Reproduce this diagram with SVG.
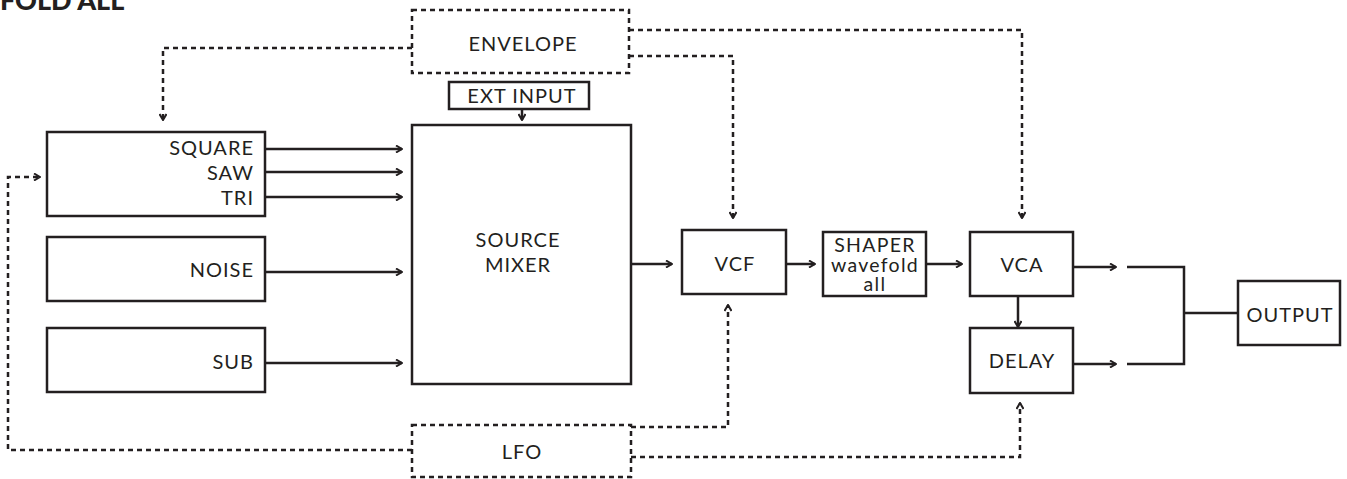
<svg xmlns="http://www.w3.org/2000/svg" width="1347" height="479" viewBox="0 0 1347 479">
<style>
.box{fill:#fff;stroke:#231f20;stroke-width:2.5}
.dbox{fill:none;stroke:#231f20;stroke-width:2.5;stroke-dasharray:5 4}
.t{font-family:Lato,"Noto Sans",sans-serif;font-size:20px;letter-spacing:1px;fill:#231f20}
.s{font-size:19.5px;letter-spacing:1.3px}
.c{text-anchor:middle}
.r{text-anchor:end}
.ln{fill:none;stroke:#231f20;stroke-width:2.5}
.dl{fill:none;stroke:#231f20;stroke-width:2.5;stroke-dasharray:5 4}
.title{font-family:Lato,"Noto Sans",sans-serif;font-weight:900;font-size:27px;fill:#231f20}
</style>
<defs>
<marker id="ah" viewBox="0 0 8 8" refX="7" refY="4" markerWidth="8" markerHeight="8" markerUnits="userSpaceOnUse" orient="auto">
<path d="M1,0.5 L7,4 L1,7.5" fill="none" stroke="#231f20" stroke-width="2"/>
</marker>
</defs>
<text class="title" x="0" y="10">FOLD ALL</text>

<g id="connectors">
<path class="ln" d="M265,149 H402" marker-end="url(#ah)"/>
<path class="ln" d="M265,172 H402" marker-end="url(#ah)"/>
<path class="ln" d="M265,197 H402" marker-end="url(#ah)"/>
<path class="ln" d="M265,272 H402" marker-end="url(#ah)"/>
<path class="ln" d="M265,363 H402" marker-end="url(#ah)"/>
<path class="ln" d="M522,109 V120" marker-end="url(#ah)"/>
<path class="ln" d="M631,264 H672" marker-end="url(#ah)"/>
<path class="ln" d="M786,264 H815" marker-end="url(#ah)"/>
<path class="ln" d="M926,264 H962" marker-end="url(#ah)"/>
<path class="ln" d="M1073,267 H1116" marker-end="url(#ah)"/>
<path class="ln" d="M1073,364 H1116" marker-end="url(#ah)"/>
<path class="ln" d="M1018,296 V327" marker-end="url(#ah)"/>
<path class="ln" d="M1127,267 H1184 V364 H1127 M1184,313 H1238"/>
<path class="dl" d="M412,48 H163 V120" marker-end="url(#ah)"/>
<path class="dl" d="M629,30 H1022 V218" marker-end="url(#ah)"/>
<path class="dl" d="M629,56 H733 V218" marker-end="url(#ah)"/>
<path class="dl" d="M412,450 H8 V177 H40" marker-end="url(#ah)"/>
<path class="dl" d="M631,427 H728 V305" marker-end="url(#ah)"/>
<path class="dl" d="M631,457 H1020 V403" marker-end="url(#ah)"/>
</g>

<g id="envelope">
<rect class="dbox" x="412" y="10" width="217" height="63"/>
<text class="t c" x="523" y="51">ENVELOPE</text>
</g>
<g id="ext-input">
<rect class="box" x="449" y="82" width="140" height="27"/>
<text class="t c" x="522" y="103">EXT INPUT</text>
</g>
<g id="source-mixer">
<rect class="box" x="412" y="125" width="219" height="259"/>
<text class="t c" x="518" y="247">SOURCE</text>
<text class="t c" x="518" y="272">MIXER</text>
</g>
<g id="oscillator">
<rect class="box" x="47" y="132" width="218" height="84"/>
<text class="t r" x="254" y="155">SQUARE</text>
<text class="t r" x="254" y="180">SAW</text>
<text class="t r" x="254" y="205">TRI</text>
</g>
<g id="noise">
<rect class="box" x="47" y="237" width="218" height="64"/>
<text class="t r" x="254" y="277">NOISE</text>
</g>
<g id="sub">
<rect class="box" x="47" y="328" width="218" height="64"/>
<text class="t r" x="254" y="369">SUB</text>
</g>
<g id="vcf">
<rect class="box" x="682" y="230" width="104" height="64"/>
<text class="t c" x="735" y="271">VCF</text>
</g>
<g id="shaper">
<rect class="box" x="823" y="232" width="103" height="64"/>
<text class="t s c" x="875" y="252">SHAPER</text>
<text class="t s c" x="875" y="272">wavefold</text>
<text class="t s c" x="875" y="291">all</text>
</g>
<g id="vca">
<rect class="box" x="970" y="232" width="103" height="64"/>
<text class="t c" x="1022" y="272">VCA</text>
</g>
<g id="delay">
<rect class="box" x="970" y="328" width="103" height="65"/>
<text class="t c" x="1022" y="368">DELAY</text>
</g>
<g id="output">
<rect class="box" x="1238" y="281" width="102" height="64"/>
<text class="t c" x="1290" y="322">OUTPUT</text>
</g>
<g id="lfo">
<rect class="dbox" x="412" y="425" width="219" height="52"/>
<text class="t c" x="522" y="459">LFO</text>
</g>
</svg>
